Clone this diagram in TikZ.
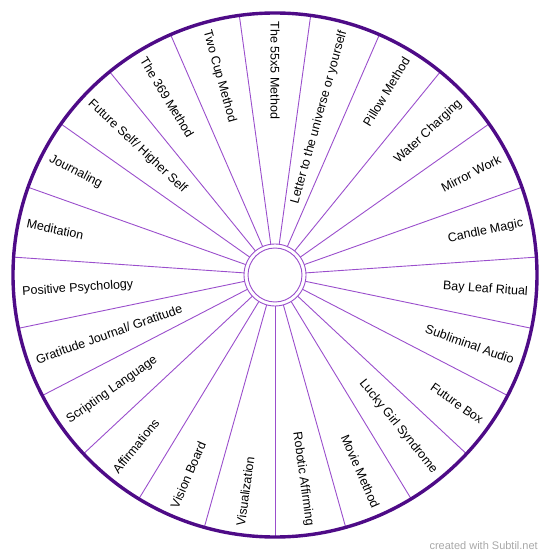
\documentclass[tikz,border=0pt]{standalone}
\usepackage{fontspec}
\setmainfont{Liberation Sans}
\definecolor{rimc}{HTML}{4E0B87}
\definecolor{spokec}{HTML}{9A4ECC}
\definecolor{markc}{HTML}{A8A8A8}
\tikzset{
  rim/.style={draw=rimc, line width=3.4pt},
  spoke/.style={draw=spokec, line width=0.9pt},
  hub/.style={draw=spokec, line width=0.9pt, fill=white},
  lblR/.style={font=\fontsize{12.5}{14}\selectfont, anchor=east, inner sep=0pt},
  lblL/.style={font=\fontsize{12.5}{14}\selectfont, anchor=west, inner sep=0pt},
}
\begin{document}
\begin{tikzpicture}[x=1pt,y=1pt]
\useasboundingbox (-275,-284) rectangle (275,275);
\def\R{262}
\def\T{253.5}
\coordinate (c) at (0,0);
% spokes
\foreach \k in {0,...,22}{
  \coordinate (s\k) at ({-90+\k*360/23}:\R);
  \coordinate (h\k) at ({-90+\k*360/23}:31);
  \draw[spoke] (h\k) -- (s\k);
}
\draw[rim] (c) circle (\R);
\draw[hub] (c) circle (31);
\draw[hub] (c) circle (27);
% labels: sector centres 90 - k*360/23
\foreach \k/\txt in {
  1/{Letter to the universe or yourself},
  2/{Pillow Method},
  3/{Water Charging},
  4/{Mirror Work},
  5/{Candle Magic},
  6/{Bay Leaf Ritual},
  7/{Subliminal Audio},
  8/{Future Box},
  9/{Lucky Girl Syndrome},
  10/{Movie Method},
  11/{Robotic Affirming}}{
  \pgfmathsetmacro{\a}{90-\k*360/23}
  \node[lblR, rotate=\a] (l\k) at (\a:\T) {\txt};
}
\foreach \k/\txt in {
  0/{The 55x5 Method},
  12/{Visualization},
  13/{Vision Board},
  14/{Affirmations},
  15/{Scripting Language},
  16/{Gratitude Journal/ Gratitude},
  17/{Positive Psychology},
  18/{Meditation},
  19/{Journaling},
  20/{Future Self/ Higher Self},
  21/{The 369 Method},
  22/{Two Cup Method}}{
  \pgfmathsetmacro{\a}{90-\k*360/23}
  \node[lblL, rotate=\a+180] (l\k) at (\a:\T) {\txt};
}
\node[font=\fontsize{11}{13}\selectfont, text=markc, anchor=east, inner sep=0pt] (mark) at (263,-271) {created with Subtil.net};
\end{tikzpicture}
\end{document}
